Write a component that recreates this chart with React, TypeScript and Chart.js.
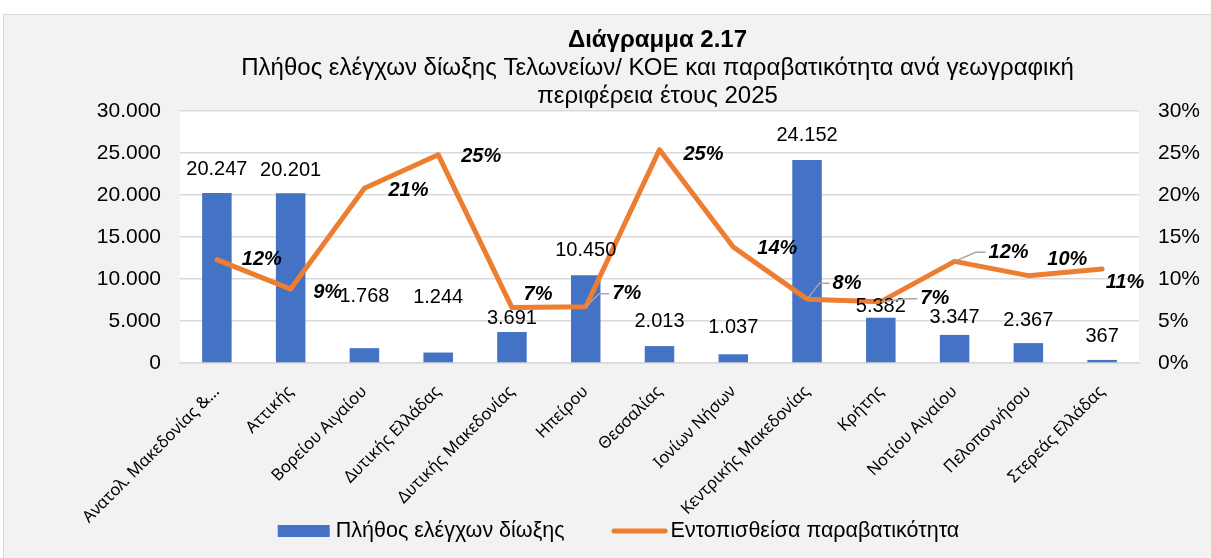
import React, { useEffect, useRef } from "react";
import { Chart, registerables } from "chart.js";

Chart.register(...registerables);

// ---------- data ----------
const categories = [
  "Ανατολ. Μακεδονίας &…",
  "Αττικής",
  "Βορείου Αιγαίου",
  "Δυτικής Ελλάδας",
  "Δυτικής Μακεδονίας",
  "Ηπείρου",
  "Θεσσαλίας",
  "Ιονίων Νήσων",
  "Κεντρικής Μακεδονίας",
  "Κρήτης",
  "Νοτίου Αιγαίου",
  "Πελοποννήσου",
  "Στερεάς Ελλάδας",
];
const checks = [20247, 20201, 1768, 1244, 3691, 10450, 2013, 1037, 24152, 5382, 3347, 2367, 367];
const violationRate = [12.3, 8.8, 20.8, 24.8, 6.6, 6.7, 25.4, 13.8, 7.6, 7.3, 12.1, 10.4, 11.2];

const barSeriesName = "Πλήθος ελέγχων δίωξης";
const lineSeriesName = "Εντοπισθείσα παραβατικότητα";
const titleText = "Διάγραμμα 2.17";
const subtitleLines = [
  "Πλήθος ελέγχων δίωξης Τελωνείων/ ΚΟΕ και παραβατικότητα ανά γεωγραφική",
  "περιφέρεια έτους 2025",
];

const leftAxisMax = 30000;
const leftAxisStep = 5000;
const rightAxisMax = 30;
const rightAxisStep = 5;

// ---------- label nudges (label placement, like manual Excel label moves) ----------
const barLabelLift = [23, 23, 52, 55, 14, 25, 25, 27, 25, 11, 17, 23, 23];
const pctLabelDx = [45, 37, 44, 43, 26, 41, 44, 44, 40, 54, 54, 39, 23];
const pctLabelDy = [0, 3, 2, 2, -13, -13, 5, 1, -16, -3, -9, -16, 14];
const pctLeader = [false, false, false, false, false, true, false, false, true, true, true, false, false];

// ---------- styles ----------
const BLUE = "#4472C4";
const ORANGE = "#ED7D31";
const GRID = "#d9d9d9";
const SANS = '"Liberation Sans", Arial, sans-serif';
const XFONT = '"Noto Sans", sans-serif';

const fmtThousands = (v: number) =>
  Math.round(v).toString().replace(/\B(?=(\d{3})+(?!\d))/g, ".");

const plotBgPlugin = {
  id: "plotBg",
  beforeDraw(chart: any) {
    const { ctx, chartArea } = chart;
    ctx.save();
    ctx.fillStyle = "#ffffff";
    ctx.fillRect(chartArea.left, chartArea.top, chartArea.right - chartArea.left, chartArea.bottom - chartArea.top);
    ctx.restore();
  },
};

const labelsPlugin = {
  id: "valueLabels",
  afterDatasetsDraw(chart: any) {
    const { ctx } = chart;
    const barMeta = chart.getDatasetMeta(0);
    const lineMeta = chart.getDatasetMeta(1);
    ctx.save();
    // bar labels
    ctx.font = `20px ${SANS}`;
    ctx.fillStyle = "#000";
    ctx.textAlign = "center";
    ctx.textBaseline = "middle";
    barMeta.data.forEach((el: any, i: number) => {
      ctx.fillText(fmtThousands(checks[i]), el.x, el.y - barLabelLift[i]);
    });
    // percent labels
    ctx.font = `italic bold 20px ${SANS}`;
    lineMeta.data.forEach((el: any, i: number) => {
      const txt = `${Math.round(violationRate[i])}%`;
      const lx = el.x + pctLabelDx[i];
      const ly = el.y + pctLabelDy[i];
      if (pctLeader[i]) {
        const w = ctx.measureText(txt).width;
        const endX = lx - w / 2 - 3;
        const elbowX = endX - 10;
        ctx.strokeStyle = "#a6a6a6";
        ctx.lineWidth = 1.5;
        ctx.beginPath();
        ctx.moveTo(el.x, el.y);
        ctx.lineTo(elbowX, ly);
        ctx.lineTo(endX, ly);
        ctx.stroke();
      }
      ctx.fillStyle = "#000";
      ctx.fillText(txt, lx, ly);
    });
    ctx.restore();
  },
};

const titlePlugin = {
  id: "titleText",
  afterDraw(chart: any) {
    const { ctx, chartArea } = chart;
    const cx = (chartArea.left + chartArea.right) / 2 - 2;
    ctx.save();
    ctx.fillStyle = "#000";
    ctx.textAlign = "center";
    ctx.textBaseline = "alphabetic";
    ctx.font = `bold 24px ${SANS}`;
    ctx.fillText(titleText, cx, 32);
    ctx.font = `24px ${SANS}`;
    subtitleLines.forEach((line, i) => ctx.fillText(line, cx, 60 + i * 28));
    ctx.restore();
  },
};

const legendPlugin = {
  id: "customLegend",
  afterDraw(chart: any) {
    const { ctx, width } = chart;
    const ds = chart.data.datasets;
    ctx.save();
    ctx.font = `21.5px ${SANS}`;
    ctx.textBaseline = "middle";
    ctx.textAlign = "left";
    const boxW = 52;
    const lineW = 56;
    const gap1 = 6;
    const gap2 = 3;
    const itemGap = 47;
    const t1 = ctx.measureText(ds[0].label).width;
    const t2 = ctx.measureText(ds[1].label).width;
    const total = boxW + gap1 + t1 + itemGap + lineW + gap2 + t2;
    let x = width / 2 + 11 - total / 2;
    const y = 516;
    ctx.fillStyle = ds[0].backgroundColor;
    ctx.fillRect(x, y - 6, boxW, 12);
    x += boxW + gap1;
    ctx.fillStyle = "#000";
    ctx.fillText(ds[0].label, x, y);
    x += t1 + itemGap;
    ctx.strokeStyle = ds[1].borderColor;
    ctx.lineWidth = 5;
    ctx.lineCap = "round";
    ctx.beginPath();
    ctx.moveTo(x + 2.5, y);
    ctx.lineTo(x + lineW - 2.5, y);
    ctx.stroke();
    x += lineW + gap2;
    ctx.fillStyle = "#000";
    ctx.fillText(ds[1].label, x, y);
    ctx.restore();
  },
};

export default function App() {
  const ref = useRef<HTMLCanvasElement | null>(null);

  useEffect(() => {
    const canvas = ref.current;
    if (!canvas) return;
    const chart = new Chart(canvas, {
      type: "bar",
      data: {
        labels: categories,
        datasets: [
          {
            type: "bar",
            label: barSeriesName,
            data: checks,
            backgroundColor: BLUE,
            yAxisID: "y",
            order: 1,
            barPercentage: 0.4,
            categoryPercentage: 1,
          },
          {
            type: "line",
            label: lineSeriesName,
            data: violationRate,
            borderColor: ORANGE,
            backgroundColor: ORANGE,
            borderWidth: 5,
            pointRadius: 0,
            pointHoverRadius: 0,
            tension: 0,
            yAxisID: "y1",
            order: 0,
            borderCapStyle: "round",
            borderJoinStyle: "round",
          } as any,
        ],
      },
      options: {
        responsive: false,
        animation: false,
        devicePixelRatio: 1,
        layout: { padding: { top: 96, bottom: 5, left: 0, right: 0 } },
        plugins: {
          legend: { display: false },
          title: { display: false },
          tooltip: { enabled: false },
        },
        scales: {
          x: {
            offset: true,
            grid: { display: false, drawTicks: false },
            border: { display: true, color: GRID, width: 1.5 },
            ticks: {
              autoSkip: false,
              minRotation: 45,
              maxRotation: 45,
              padding: 19,
              color: "#000",
              font: { family: XFONT, size: 16.5 },
            },
            afterFit: (s: any) => {
              s.height = 190;
            },
          },
          y: {
            position: "left",
            min: 0,
            max: leftAxisMax,
            ticks: {
              stepSize: leftAxisStep,
              padding: 19,
              color: "#000",
              font: { family: SANS, size: 21 },
              callback: (v: any) => fmtThousands(Number(v)),
            },
            grid: { color: GRID, lineWidth: 1.5, drawTicks: false },
            border: { display: false },
            afterFit: (s: any) => {
              s.width = 176;
            },
          },
          y1: {
            position: "right",
            min: 0,
            max: rightAxisMax,
            ticks: {
              stepSize: rightAxisStep,
              padding: 19,
              color: "#000",
              font: { family: SANS, size: 21 },
              callback: (v: any) => `${v}%`,
            },
            grid: { display: false, drawTicks: false },
            border: { display: false },
            afterFit: (s: any) => {
              s.width = 72;
            },
          },
        },
      } as any,
      plugins: [plotBgPlugin, labelsPlugin, titlePlugin, legendPlugin],
    });
    return () => chart.destroy();
  }, []);

  return (
    <div
      style={{
        position: "fixed",
        left: 3,
        top: 14,
        width: 1208,
        height: 544,
        background: "#f2f2f2",
        borderTop: "1px solid #d9d9d9",
        borderLeft: "1px solid #d9d9d9",
        boxSizing: "border-box",
      }}
    >
      <canvas ref={ref} width={1207} height={543} style={{ display: "block", width: 1207, height: 543 }} />
    </div>
  );
}
